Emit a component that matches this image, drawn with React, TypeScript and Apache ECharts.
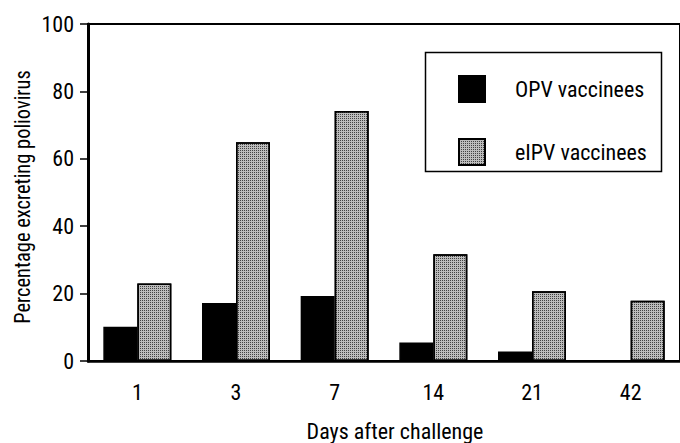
import React, { useEffect, useRef } from "react";
import * as echarts from "echarts";

const categories = ["1", "3", "7", "14", "21", "42"];
const opvValues = [10.2, 17.2, 19.3, 5.5, 2.8, 0];
const eipvValues = [23, 64.9, 74.2, 31.7, 20.7, 17.9];
const seriesNames = ["OPV vaccinees", "eIPV vaccinees"];
const yAxisTitle = "Percentage excreting poliovirus";
const xAxisTitle = "Days after challenge";

const FONT = '"Roboto Condensed", "Liberation Sans Narrow", "Arial Narrow", "Liberation Sans", Arial, sans-serif';

export default function App() {
  const ref = useRef<HTMLDivElement>(null);
  useEffect(() => {
    if (!ref.current) return;
    const chart = echarts.init(ref.current, undefined, { renderer: "svg" });
    const stipple = {
      symbol: "rect",
      symbolSize: 1,
      dashArrayX: [1, 1],
      dashArrayY: [1, 1],
      rotation: 0,
      color: "rgba(0,0,0,0.65)",
    };
    chart.setOption({
      animation: false,
      backgroundColor: "#ffffff",
      textStyle: { fontFamily: FONT },
      grid: {
        left: 88,
        top: 24,
        width: 594,
        height: 337,
        show: true,
        borderColor: "#000",
        borderWidth: 2,
        backgroundColor: "transparent",
      },
      legend: {
        orient: "vertical",
        left: 453,
        top: 70,
        itemWidth: 26,
        itemHeight: 26,
        itemGap: 35,
        icon: "rect",
        data: seriesNames,
        textStyle: { fontFamily: FONT, fontSize: 22, color: "#000", padding: [10, 0, 0, 25] },
        selectedMode: false,
      },
      xAxis: {
        type: "category",
        data: categories,
        axisLine: { lineStyle: { color: "#000", width: 2.5 } },
        axisTick: { alignWithLabel: true, length: 6, lineStyle: { color: "#000", width: 1.5 } },
        axisLabel: { fontFamily: FONT, fontSize: 22, color: "#000", margin: 20 },
      },
      yAxis: {
        type: "value",
        min: 0,
        max: 100,
        interval: 20,
        splitLine: { show: false },
        axisLine: { show: true, lineStyle: { color: "#000", width: 3 } },
        axisTick: { show: true, length: 8, lineStyle: { color: "#000", width: 1.5 } },
        axisLabel: { fontFamily: FONT, fontSize: 22, color: "#000", margin: 14 },
      },
      graphic: [
        {
          type: "rect",
          shape: { x: 425.5, y: 52.5, width: 236, height: 119 },
          style: { fill: "transparent", stroke: "#000", lineWidth: 1.5 },
          z: 10,
        },
        {
          type: "text",
          x: 22,
          y: 197,
          rotation: Math.PI / 2,
          scaleX: 0.93,
          style: {
            text: yAxisTitle,
            fontFamily: FONT,
            fontSize: 22,
            fill: "#000",
            align: "center",
            verticalAlign: "middle",
          },
        },
        {
          type: "text",
          x: 395,
          y: 431,
          style: {
            text: xAxisTitle,
            fontFamily: FONT,
            fontSize: 22,
            fill: "#000",
            align: "center",
            verticalAlign: "middle",
          },
        },
      ],
      series: [
        {
          name: seriesNames[0],
          type: "bar",
          data: opvValues,
          barWidth: 34,
          barGap: "0%",
          itemStyle: { color: "#000", borderColor: "#000", borderWidth: 1.5 },
        },
        {
          name: seriesNames[1],
          type: "bar",
          data: eipvValues,
          barWidth: 34,
          barGap: "0%",
          itemStyle: { color: "#bcbcbc", borderColor: "#000", borderWidth: 1.5, decal: stipple },
        },
      ],
    });
    return () => chart.dispose();
  }, []);
  return (
    <div
      ref={ref}
      style={{ position: "fixed", left: 0, top: 0, width: 680, height: 443 }}
    />
  );
}
